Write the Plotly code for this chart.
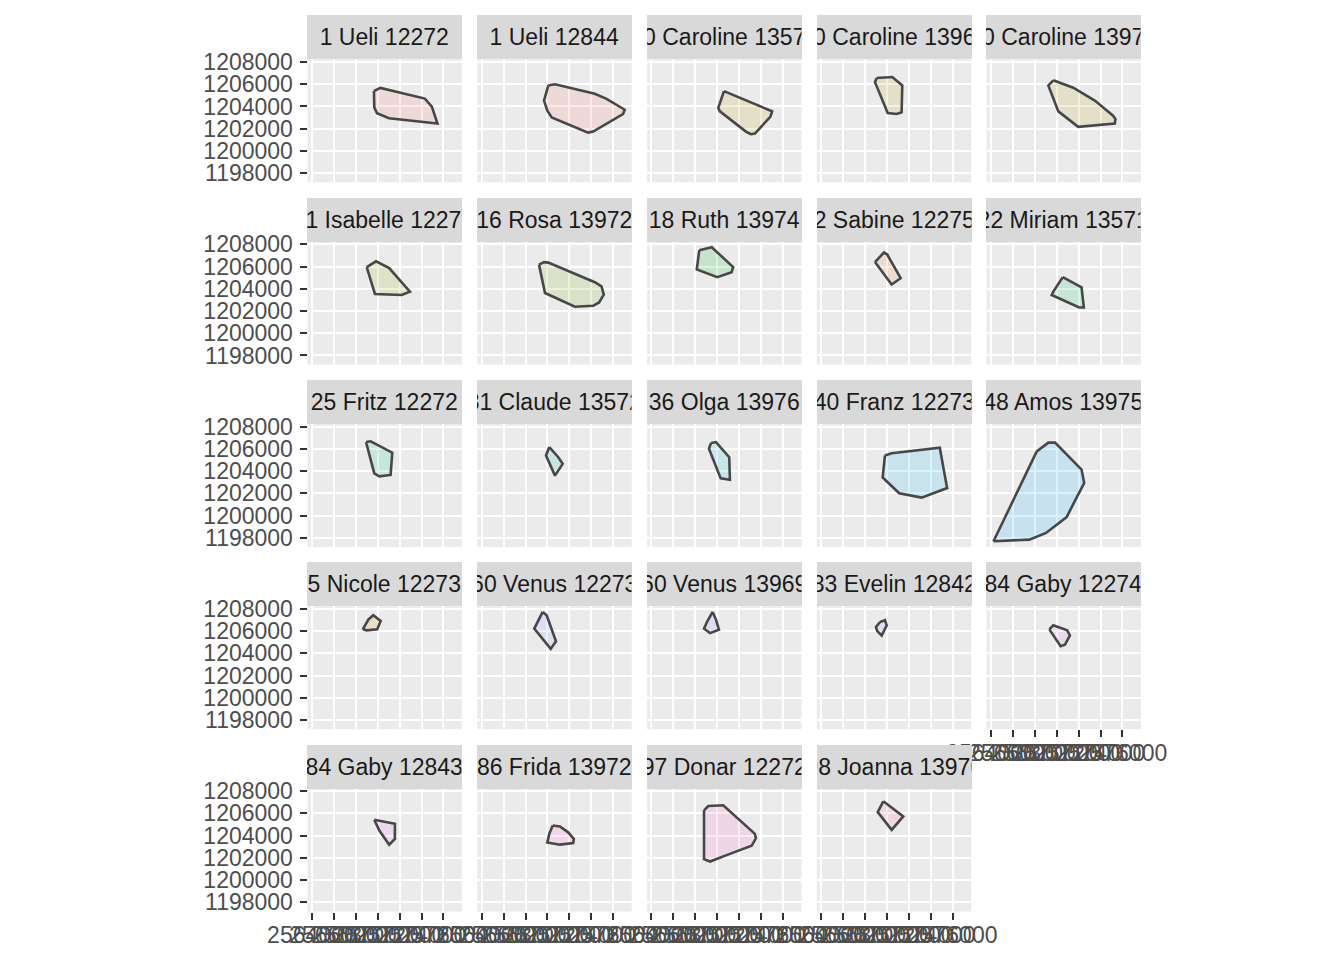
import math
import plotly.graph_objects as go

# ---------------- data ----------------
facet_labels = [
    "1 Ueli 12272", "1 Ueli 12844", "10 Caroline 13570", "10 Caroline 13966", "10 Caroline 13973",
    "11 Isabelle 12272", "16 Rosa 13972", "18 Ruth 13974", "2 Sabine 12275", "22 Miriam 13571",
    "25 Fritz 12272", "31 Claude 13572", "36 Olga 13976", "40 Franz 12273", "48 Amos 13975",
    "5 Nicole 12273", "60 Venus 12273", "60 Venus 13969", "83 Evelin 12842", "84 Gaby 12274",
    "84 Gaby 12843", "86 Frida 13972", "97 Donar 12272", "98 Joanna 13970",
]
facet_animal = [
    "Ueli", "Ueli", "Caroline", "Caroline", "Caroline",
    "Isabelle", "Rosa", "Ruth", "Sabine", "Miriam",
    "Fritz", "Claude", "Olga", "Franz", "Amos",
    "Nicole", "Venus", "Venus", "Evelin", "Gaby",
    "Gaby", "Frida", "Donar", "Joanna",
]
# fill levels (ordered by animal id)
animals = ["Ueli", "Sabine", "Nicole", "Caroline", "Isabelle", "Rosa", "Ruth", "Miriam", "Fritz",
           "Claude", "Olga", "Franz", "Amos", "Venus", "Evelin", "Gaby", "Frida", "Donar", "Joanna"]

hull_E = [
    [2569660, 2570250, 2574300, 2574940, 2575450, 2571030, 2569940, 2569690],
    [2570080, 2570690, 2574320, 2575390, 2577050, 2576890, 2574170, 2573710, 2570390, 2569990, 2569690],
    [2570620, 2575010, 2574860, 2573440, 2573070, 2572620, 2570250, 2570100],
    [2569070, 2570490, 2571400, 2571340, 2570890, 2570070, 2568910],
    [2569690, 2571510, 2573480, 2575140, 2575360, 2575300, 2571960, 2570150, 2569240],
    [2569000, 2569850, 2571050, 2572940, 2572180, 2569750],
    [2569230, 2569690, 2570080, 2574320, 2574930, 2575140, 2574710, 2574170, 2572500, 2569780],
    [2568370, 2569500, 2571460, 2571320, 2570010, 2568140],
    [2568910, 2569730, 2570030, 2571250, 2570430],
    [2570550, 2572270, 2572480, 2572050, 2569550, 2569690],
    [2568940, 2569360, 2571330, 2571180, 2570150, 2569690],
    [2570170, 2570990, 2571390, 2570690, 2569870],
    [2569440, 2569890, 2571100, 2571160, 2570320, 2569250],
    [2569820, 2570430, 2574820, 2575490, 2573160, 2571120, 2569610],
    [2564240, 2568180, 2569240, 2569850, 2572270, 2572510, 2571660, 2570910, 2569030, 2567510],
    [2568640, 2569150, 2569600, 2570270, 2569960, 2569000],
    [2569570, 2569930, 2570780, 2570300, 2568800],
    [2569590, 2569890, 2570160, 2569350, 2568800, 2569100],
    [2569370, 2569820, 2569980, 2569520, 2569120, 2569000],
    [2569330, 2569690, 2570960, 2571210, 2570750, 2570360],
    [2569690, 2571570, 2571570, 2571050, 2570150],
    [2570480, 2571140, 2571890, 2572410, 2572350, 2571140, 2569990, 2570170],
    [2568800, 2569190, 2570550, 2573440, 2573530, 2573140, 2571100, 2569350, 2568800],
    [2569670, 2571490, 2570430, 2569160],
]
hull_N = [
    [1205390, 1205670, 1204710, 1203990, 1202470, 1202940, 1203390, 1203920],
    [1205890, 1205990, 1205140, 1204690, 1203710, 1203320, 1201740, 1201650, 1203010, 1203620, 1204530],
    [1205380, 1203560, 1203080, 1201560, 1201500, 1201740, 1203560, 1203870],
    [1206560, 1206650, 1205890, 1203470, 1203320, 1203410, 1206190],
    [1206350, 1205690, 1204530, 1203170, 1202870, 1202470, 1202170, 1203560, 1205890],
    [1205950, 1206470, 1205860, 1203740, 1203440, 1203530],
    [1206170, 1206400, 1206350, 1204590, 1204220, 1203470, 1202770, 1202470, 1202380, 1203620],
    [1207470, 1207740, 1205950, 1205490, 1205040, 1205740],
    [1206400, 1207260, 1207080, 1204950, 1204380],
    [1205040, 1204130, 1202310, 1202310, 1203440, 1203740],
    [1206610, 1206680, 1205650, 1203650, 1203520, 1203790],
    [1206160, 1205250, 1204650, 1203590, 1205400],
    [1206520, 1206610, 1205250, 1203220, 1203340, 1206010],
    [1205400, 1205610, 1206100, 1202470, 1201610, 1202010, 1203430],
    [1197680, 1205770, 1206560, 1206560, 1204130, 1202920, 1201310, 1199860, 1198430, 1197830],
    [1206160, 1207040, 1207430, 1206910, 1206160, 1206070],
    [1207730, 1207430, 1205090, 1204400, 1206220],
    [1207730, 1207040, 1206130, 1205820, 1206220, 1206890],
    [1206820, 1206980, 1206520, 1205610, 1206000, 1206370],
    [1206160, 1206520, 1206070, 1205610, 1204770, 1204640],
    [1205430, 1205070, 1203700, 1203190, 1204460],
    [1204910, 1204820, 1204300, 1203700, 1203340, 1203190, 1203390, 1204160],
    [1206280, 1206670, 1206730, 1204160, 1203760, 1203090, 1202340, 1201670, 1201890],
    [1207090, 1205730, 1204520, 1206120],
]

# ---------------- styling helpers ----------------
def hcl_rgb(h, c=100.0, l=65.0):
    hr = math.radians(h)
    u, v = c * math.cos(hr), c * math.sin(hr)
    Xn, Yn, Zn = 95.047, 100.0, 108.883
    Y = Yn * ((l + 16) / 116) ** 3
    den = Xn + 15 * Yn + 3 * Zn
    un, vn = 4 * Xn / den, 9 * Yn / den
    up, vp = u / (13 * l) + un, v / (13 * l) + vn
    X = 9 * Y * up / (4 * vp)
    Z = Y * (12 - 3 * up - 20 * vp) / (4 * vp)
    X, Y, Z = X / 100, Y / 100, Z / 100
    rgb = [3.240479 * X - 1.537150 * Y - 0.498535 * Z,
           -0.969256 * X + 1.875992 * Y + 0.041556 * Z,
           0.055648 * X - 0.204043 * Y + 1.057311 * Z]
    out = []
    for t in rgb:
        t = 12.92 * t if t <= 0.0031308 else 1.055 * t ** (1 / 2.4) - 0.055
        out.append(int(round(min(max(t, 0), 1) * 255)))
    return out

n_lv = len(animals)
palette = [hcl_rgb(15 + 360 * i / n_lv) for i in range(n_lv)]

W, H = 1344, 960
NCOL = 5
col_left0, col_pitch, panel_w = 307.5, 169.75, 154.5
row_top0, row_pitch, panel_h = 59.3, 182.3, 123.0
strip_h = 44.0

allE = [e for poly in hull_E for e in poly]
allN = [n for poly in hull_N for n in poly]
ex = 0.05 * (max(allE) - min(allE))
ey = 0.05 * (max(allN) - min(allN))
xrange = [min(allE) - ex, max(allE) + ex]
yrange = [min(allN) - ey, max(allN) + ey]

fig = go.Figure()
layout = dict(
    width=W, height=H, margin=dict(l=0, r=0, t=0, b=0, autoexpand=False),
    paper_bgcolor="white", plot_bgcolor="#EBEBEB",
    showlegend=False, font=dict(family="Liberation Sans, Arial, sans-serif"),
)
annotations = []
n_panels = len(facet_labels)
for i in range(n_panels):
    r, c = divmod(i, NCOL)
    k = i + 1
    x0 = (col_left0 + c * col_pitch) / W
    x1 = (col_left0 + c * col_pitch + panel_w) / W
    top = row_top0 + r * row_pitch
    y1 = 1 - top / H
    y0 = 1 - (top + panel_h) / H
    below = i + NCOL
    show_x = below >= n_panels
    show_y = c == 0
    common = dict(showgrid=True, gridcolor="white", gridwidth=2.1, zeroline=False,
                  showline=False, tickfont=dict(size=23, color="#4D4D4D"),
                  tickcolor="#333333", ticklen=7, tickwidth=2.1, fixedrange=True,
                  automargin=False, tickangle=0)
    layout[f"xaxis{k}"] = dict(domain=[x0, x1], range=xrange, anchor=f"y{k}",
                               tick0=0, dtick=2000, tickformat="d",
                               showticklabels=show_x, ticks="outside" if show_x else "",
                               ticklabelstandoff=-4, **common)
    layout[f"yaxis{k}"] = dict(domain=[y0, y1], range=yrange, anchor=f"x{k}",
                               tick0=0, dtick=2000, tickformat="d",
                               showticklabels=show_y, ticks="outside" if show_y else "",
                               ticklabelstandoff=2, **common)
    rgb = palette[animals.index(facet_animal[i])]
    xs = list(hull_E[i]) + [hull_E[i][0]]
    ys = list(hull_N[i]) + [hull_N[i][0]]
    fig.add_trace(go.Scatter(
        x=xs, y=ys, xaxis=f"x{k}", yaxis=f"y{k}", mode="lines", fill="toself",
        fillcolor=f"rgba({rgb[0]},{rgb[1]},{rgb[2]},0.15)",
        line=dict(color="#474747", width=2.6), hoverinfo="skip",
    ))
    annotations.append(dict(
        x=(x0 + x1) / 2, y=1 - (top - strip_h / 2) / H, xref="paper", yref="paper",
        text=facet_labels[i], showarrow=False, width=panel_w, height=strip_h,
        bgcolor="#D9D9D9", borderpad=0, borderwidth=0,
        font=dict(size=23, color="#1A1A1A"), xanchor="center", yanchor="middle",
    ))

layout["annotations"] = annotations
fig.update_layout(**layout)
fig.write_html("out.html")
